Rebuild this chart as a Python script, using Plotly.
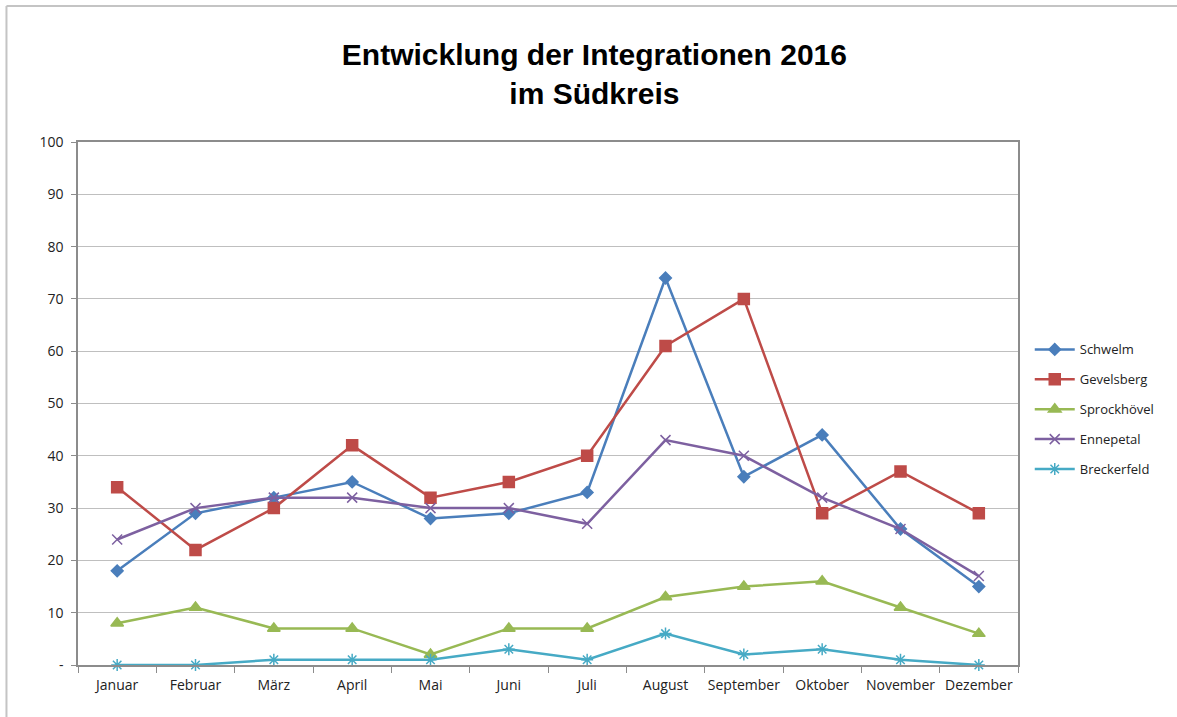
import plotly.graph_objects as go

months = ["Januar", "Februar", "März", "April", "Mai", "Juni", "Juli", "August",
          "September", "Oktober", "November", "Dezember"]
schwelm = [18, 29, 32, 35, 28, 29, 33, 74, 36, 44, 26, 15]
gevelsberg = [34, 22, 30, 42, 32, 35, 40, 61, 70, 29, 37, 29]
sprockhoevel = [8, 11, 7, 7, 2, 7, 7, 13, 15, 16, 11, 6]
ennepetal = [24, 30, 32, 32, 30, 30, 27, 43, 40, 32, 26, 17]
breckerfeld = [0, 0, 1, 1, 1, 3, 1, 6, 2, 3, 1, 0]
y_ticks = [0, 10, 20, 30, 40, 50, 60, 70, 80, 90, 100]
y_labels = ["-", "10", "20", "30", "40", "50", "60", "70", "80", "90", "100"]

series = [
    ("Schwelm", schwelm, "#4A7EBB", "diamond", 9),
    ("Gevelsberg", gevelsberg, "#BE4B48", "square", 11),
    ("Sprockhövel", sprockhoevel, "#98B954", "triangle-up", 11),
    ("Ennepetal", ennepetal, "#7D60A0", "x-thin", 10),
    ("Breckerfeld", breckerfeld, "#46AAC5", "asterisk", 10),
]

fig = go.Figure()
for name, vals, color, sym, size in series:
    fig.add_trace(go.Scatter(
        x=months, y=vals, name=name, mode="lines+markers", legendgroup=name,
        line=dict(color=color, width=2.5),
        marker=dict(symbol=sym, size=size, color=color,
                    line=dict(color=color, width=1.5)),
        cliponaxis=False,
    ))

fig.update_layout(
    width=1177, height=717,
    margin=dict(l=78, r=159, t=142, b=52),
    paper_bgcolor="white", plot_bgcolor="white",
    font=dict(family="Open Sans, Liberation Sans, sans-serif", size=14, color="#222"),
    title=dict(
        text="<b>Entwicklung der Integrationen 2016<br>im Südkreis</b>",
        x=0.505, xanchor="center", y=0.91, yanchor="top",
        font=dict(family="Liberation Sans, Arial, sans-serif", size=30, color="black"),
    ),
    legend=dict(
        x=1.0125, xanchor="left", y=0.632, yanchor="top",
        font=dict(size=13, color="#222"),
        tracegroupgap=10, itemwidth=40,
        bgcolor="rgba(0,0,0,0)",
    ),
    showlegend=True,
)
fig.update_xaxes(
    type="category", showline=True, linecolor="#8c8c8c", linewidth=1.5, mirror=True,
    ticks="outside", tickson="boundaries", ticklen=6, tickcolor="#8c8c8c",
    showgrid=False, tickfont=dict(size=14), tickangle=0, automargin=False,
    ticklabelstandoff=6,
    range=[-0.5, 11.5],
)
fig.update_yaxes(
    range=[0, 100], tickvals=y_ticks, ticktext=y_labels,
    showline=True, linecolor="#8c8c8c", linewidth=1.5, mirror=True,
    showgrid=True, gridcolor="#bfbfbf", gridwidth=1.2,
    ticks="outside", ticklen=5, tickcolor="#8c8c8c",
    tickfont=dict(size=14), zeroline=False, automargin=False,
    ticklabelstandoff=5,
)
# outer chart-frame edges (top and left only, as in the reference)
fig.add_shape(type="line", xref="paper", yref="paper",
              x0=-0.0761, x1=1.17, y0=1.260, y1=1.260,
              line=dict(color="#c4c4c4", width=2), layer="below")
fig.add_shape(type="line", xref="paper", yref="paper",
              x0=-0.0761, x1=-0.0761, y0=1.260, y1=-0.11,
              line=dict(color="#c4c4c4", width=2), layer="below")

fig.write_html("out.html")
